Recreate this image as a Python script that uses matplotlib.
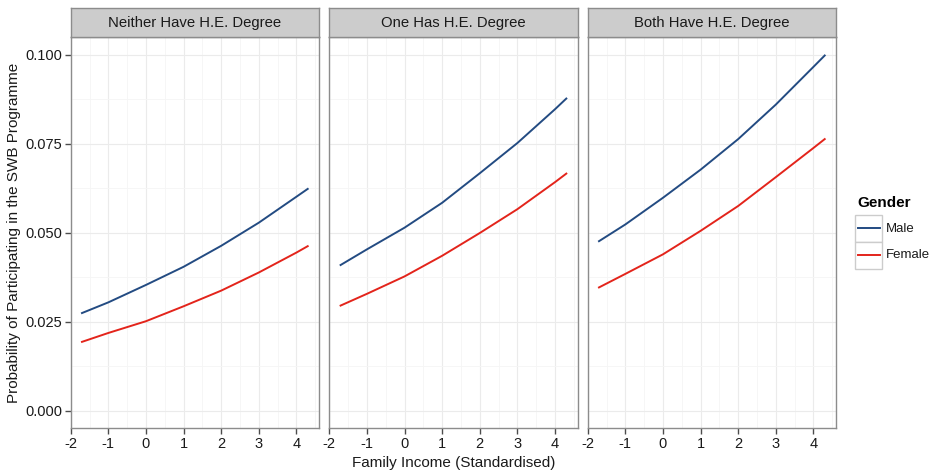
import numpy as np
import matplotlib
matplotlib.use("Agg")
import matplotlib.pyplot as plt
from matplotlib.patches import Rectangle
from matplotlib.lines import Line2D

plt.rcParams['font.family'] = ['Liberation Sans', 'DejaVu Sans']

# data
income = [-1.7, -1, 0, 1, 2, 3, 4, 4.3]
panels = ['Neither Have H.E. Degree', 'One Has H.E. Degree', 'Both Have H.E. Degree']
genders = ['Male', 'Female']
colours = ['#234b82', '#e3241b']

male_neither = [0.0274, 0.0304, 0.0353, 0.0404, 0.0463, 0.0528, 0.0601, 0.0623]
female_neither = [0.0193, 0.0218, 0.0251, 0.0293, 0.0337, 0.0388, 0.0444, 0.0462]
male_one = [0.0409, 0.0453, 0.0514, 0.0584, 0.0667, 0.0752, 0.0847, 0.0877]
female_one = [0.0295, 0.0328, 0.0377, 0.0435, 0.0499, 0.0566, 0.0642, 0.0666]
male_both = [0.0476, 0.0523, 0.0598, 0.0677, 0.0763, 0.0860, 0.0966, 0.0998]
female_both = [0.0346, 0.0384, 0.0439, 0.0505, 0.0575, 0.0656, 0.0738, 0.0763]

series = [(male_neither, female_neither), (male_one, female_one), (male_both, female_both)]

W, H = 934, 473
fig = plt.figure(figsize=(W / 100, H / 100), dpi=100)
fig.patch.set_facecolor('white')

def fx(px):
    return px / W

def fy(py):
    return 1 - py / H

lefts = [70.7, 329.3, 587.7]
pw = 248.3
ptop, pbot = 37, 428.3
stop = 8

for i, name in enumerate(panels):
    ax = fig.add_axes([fx(lefts[i]), fy(pbot), pw / W, (pbot - ptop) / H])
    for vals, col, g in zip(series[i], colours, genders):
        ax.plot(income, vals, color=col, lw=1.4, label=g, zorder=3)
    ax.set_xlim(-2.0, 4.6)
    ax.set_ylim(-0.005, 0.105)
    ax.set_xticks(np.arange(-2, 5, 1))
    ax.set_xticks(np.arange(-1.5, 4.6, 1), minor=True)
    ax.set_yticks([0, 0.025, 0.05, 0.075, 0.1])
    ax.set_yticks([0.0125, 0.0375, 0.0625, 0.0875], minor=True)
    ax.set_xticklabels(['-2', '-1', '0', '1', '2', '3', '4'])
    ax.grid(which='major', color='#ebebeb', lw=0.8, zorder=0)
    ax.grid(which='minor', color='#f5f5f5', lw=0.6, zorder=0)
    ax.set_axisbelow(True)
    for sp in ax.spines.values():
        sp.set_color('#8c8c8c')
        sp.set_linewidth(1.0)
    ax.tick_params(which='major', length=4, width=1, color='#4d4d4d',
                   labelsize=10.5, labelcolor='#1a1a1a', pad=2)
    ax.tick_params(which='minor', length=0)
    if i == 0:
        ax.set_yticklabels(['0.000', '0.025', '0.050', '0.075', '0.100'])
    else:
        ax.tick_params(axis='y', which='major', length=0, labelleft=False)

    # facet strip
    sax = fig.add_axes([fx(lefts[i]), fy(ptop), pw / W, (ptop - stop) / H])
    sax.set_facecolor('#cccccc')
    sax.set_xticks([])
    sax.set_yticks([])
    for sp in sax.spines.values():
        sp.set_color('#8c8c8c')
        sp.set_linewidth(1.0)
    sax.text(0.5, 0.5, name, ha='center', va='center', fontsize=10.7,
             color='#1a1a1a', transform=sax.transAxes)

fig.text(fx(14), fy((ptop + pbot) / 2), 'Probability of Participating in the SWB Programme',
         rotation=90, ha='center', va='center', fontsize=11, color='#1a1a1a')
fig.text(fx(453.5), fy(462.5), 'Family Income (Standardised)',
         ha='center', va='center', fontsize=11, color='#1a1a1a')

# legend, ggplot style with boxed keys
fig.text(fx(857), fy(203), 'Gender', ha='left', va='center', fontsize=11,
         fontweight='bold', color='black')
key_top = 215
key_h = 27
for j, (g, col) in enumerate(zip(genders, colours)):
    y0 = key_top + j * key_h
    fig.add_artist(Rectangle((fx(855), fy(y0 + key_h)), 27 / W, key_h / H,
                             transform=fig.transFigure, facecolor='white',
                             edgecolor='#cccccc', lw=1.0))
    fig.add_artist(Line2D([fx(857.5), fx(879.5)], [fy(y0 + key_h / 2)] * 2,
                          transform=fig.transFigure, color=col, lw=1.4))
    fig.text(fx(886), fy(y0 + key_h / 2), g, ha='left', va='center',
             fontsize=9.5, color='#1a1a1a')

fig.savefig('out.png', dpi=100, facecolor='white')
